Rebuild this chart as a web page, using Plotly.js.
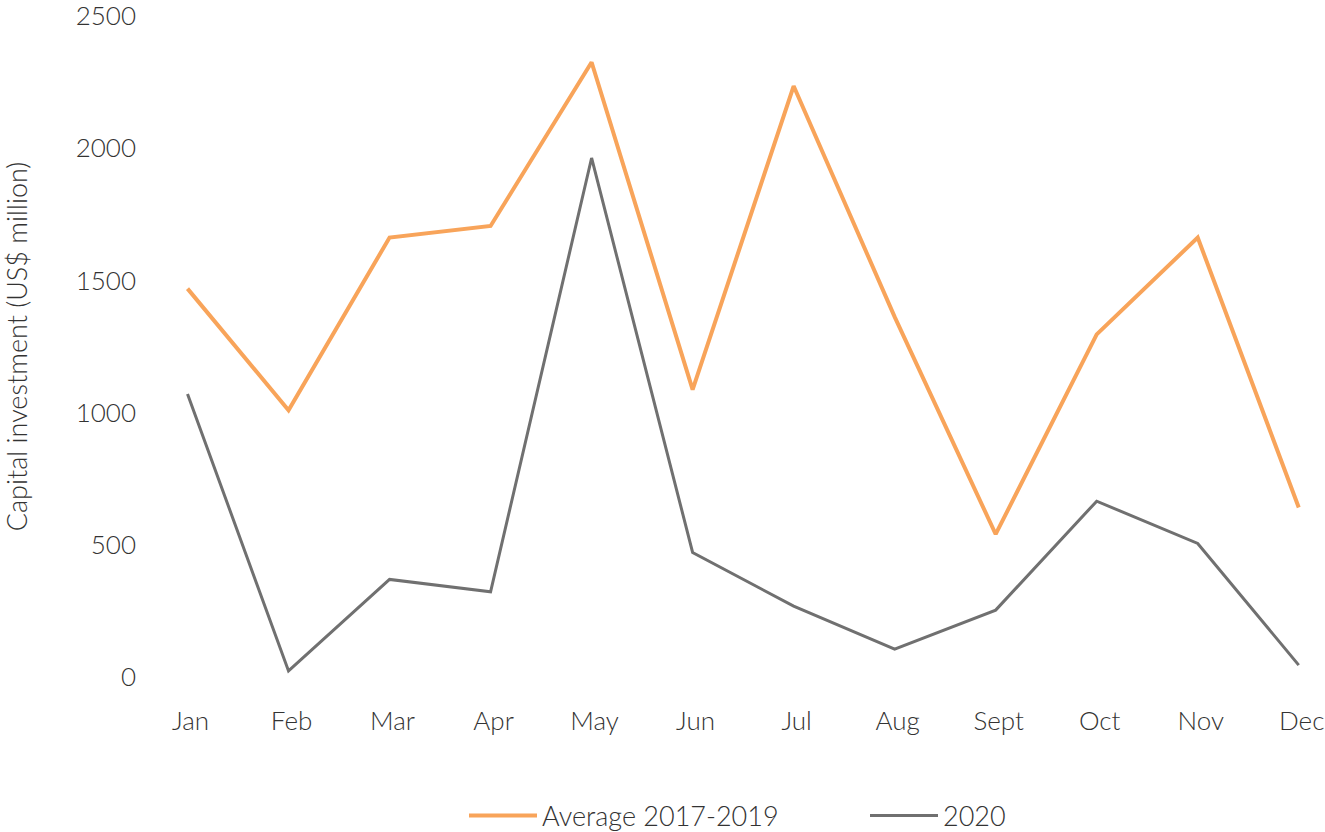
<!DOCTYPE html>
<html>
<head>
<meta charset="utf-8">
<script src="https://cdn.plot.ly/plotly-3.0.1.min.js"></script>
<style>
  html, body { margin: 0; padding: 0; background: #fff; }
  #chart { width: 1325px; height: 832px; }
</style>
</head>
<body>
<div id="chart"></div>
<script>
const months = ["Jan", "Feb", "Mar", "Apr", "May", "Jun", "Jul", "Aug", "Sept", "Oct", "Nov", "Dec"];
const average2017to2019 = [1469, 1009, 1662, 1706, 2325, 1087, 2235, 1362, 540, 1296, 1662, 641];
const values2020 = [1070, 23, 369, 322, 1963, 471, 268, 105, 253, 665, 505, 45];
const yTicks = [0, 500, 1000, 1500, 2000, 2500];

const fontFamily = "Lato, 'Open Sans', sans-serif";
const textColor = "#333333";

const traces = [
  {
    x: months, y: average2017to2019, type: "scatter", mode: "lines",
    name: "Average 2017-2019",
    line: { color: "#F8A45A", width: 4 }
  },
  {
    x: months, y: values2020, type: "scatter", mode: "lines",
    name: "2020",
    line: { color: "#707070", width: 3 }
  }
];

const layout = {
  width: 1325, height: 832,
  margin: { l: 137, r: 1, t: 16, b: 155, autoexpand: false },
  paper_bgcolor: "#ffffff", plot_bgcolor: "#ffffff",
  font: { family: fontFamily, size: 26, color: textColor, weight: 300 },
  showlegend: true,
  legend: {
    orientation: "h", xref: "container", yref: "container",
    x: 464 / 1325, xanchor: "left", y: 1 - 816 / 832, yanchor: "middle",
    font: { family: fontFamily, size: 27, color: textColor, weight: 300 },
    itemwidth: 68, entrywidth: 318, tracegroupgap: 0
  },
  xaxis: {
    type: "category",
    range: [-0.5, 11.25],
    automargin: false,
    showgrid: false, zeroline: false, showline: false, ticks: "",
    ticklabelstandoff: 26, ticklabelshift: 3,
    tickfont: { family: fontFamily, size: 26, color: textColor, weight: 300 }
  },
  yaxis: {
    range: [0, 2500],
    automargin: false,
    ticklabeloverflow: "allow",
    tickvals: yTicks,
    ticktext: yTicks.map(String),
    showgrid: false, zeroline: false, showline: false, ticks: "",
    tickfont: { family: fontFamily, size: 26, color: textColor, weight: 300 },
    title: { text: "Capital investment (US$ million)", standoff: 40,
             font: { family: fontFamily, size: 27, color: textColor, weight: 300 } }
  }
};

Plotly.newPlot("chart", traces, layout, { displayModeBar: false, staticPlot: true });
</script>
</body>
</html>
